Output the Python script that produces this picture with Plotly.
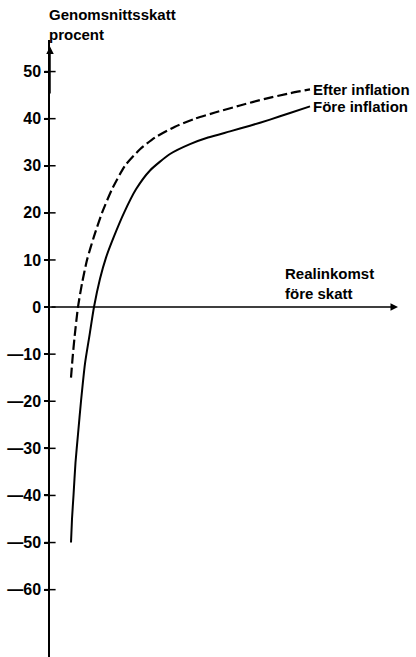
import plotly.graph_objects as go

# Data (x: real income before tax, arbitrary units; y: average tax, percent)
fore_x = [21, 22, 23.5, 25.5, 28, 31, 35, 39.5, 44, 50, 56, 64, 74, 86, 100, 120, 140, 158, 180, 200, 220, 240, 260]
fore_y = [-50, -45, -40, -33, -27, -20, -12, -6, 0, 6, 10.5, 15, 20, 25, 29, 32.5, 34.6, 36, 37.3, 38.5, 39.8, 41.2, 42.6]

efter_x = [21, 22.5, 24.5, 28, 32, 37, 44, 52, 62, 75, 90, 105, 125, 145, 165, 190, 215, 240, 260]
efter_y = [-15, -11, -6.5, 0, 5, 10, 15, 20, 25, 30, 33.5, 36, 38.3, 40, 41.3, 42.8, 44.2, 45.4, 46.2]

tick_vals = [50, 40, 30, 20, 10, 0, -10, -20, -30, -40, -50, -60]
tick_text = [("—" + str(-v)) if v < 0 else str(v) for v in tick_vals]

series_names = ["Efter inflation", "Före inflation"]
y_title = "Genomsnittsskatt<br>procent"
x_title = "Realinkomst<br>före skatt"

FONT = "Liberation Sans"
INK = "#000000"
LBL = dict(family=FONT, size=15, color=INK, weight="bold")

fig = go.Figure()

fig.add_trace(go.Scatter(x=efter_x, y=efter_y, mode="lines",
                         line=dict(color=INK, width=2.2, dash="10px,4px", shape="spline", smoothing=0.6),
                         hoverinfo="skip", showlegend=False))
fig.add_trace(go.Scatter(x=fore_x, y=fore_y, mode="lines",
                         line=dict(color=INK, width=2, shape="spline", smoothing=0.6),
                         hoverinfo="skip", showlegend=False))

# inside half of the y tick marks (cross ticks)
fig.add_trace(go.Scatter(x=[0] * len(tick_vals), y=tick_vals, mode="markers",
                         marker=dict(symbol="line-ew-open", size=8, color=INK,
                                     line=dict(color=INK, width=1.5)),
                         hoverinfo="skip", showlegend=False, cliponaxis=False))

annotations = []
# series labels at line ends
annotations.append(dict(x=efter_x[-1], y=efter_y[-1], xref="x", yref="y", text=series_names[0],
                        showarrow=False, xanchor="left", yanchor="middle", xshift=1, font=LBL))
annotations.append(dict(x=fore_x[-1], y=fore_y[-1], xref="x", yref="y", text=series_names[1],
                        showarrow=False, xanchor="left", yanchor="middle", xshift=1, font=LBL))
# axis titles
annotations.append(dict(x=-0.008, y=1.058, xref="paper", yref="paper", text=y_title, showarrow=False,
                        xanchor="left", yanchor="top", align="left", font=LBL))
annotations.append(dict(x=233, y=5.0, xref="x", yref="y", text=x_title, showarrow=False,
                        xanchor="left", yanchor="middle", align="left", font=LBL))
# x axis with arrow
annotations.append(dict(x=348, y=0, ax=0, ay=0, xref="x", yref="y", axref="x", ayref="y",
                        text="", showarrow=True, arrowhead=2, arrowsize=1, arrowwidth=1.5,
                        arrowcolor=INK))
# y axis arrow tip
annotations.append(dict(x=0, y=55.3, ax=0, ay=45, xref="x", yref="y", axref="x", ayref="y",
                        text="", showarrow=True, arrowhead=2, arrowsize=1, arrowwidth=1.5,
                        arrowcolor=INK))

fig.update_layout(
    width=416, height=657,
    margin=dict(l=50, r=0, t=40, b=0, autoexpand=False),
    paper_bgcolor="white", plot_bgcolor="white",
    annotations=annotations,
    xaxis=dict(range=[0, 366], visible=False, fixedrange=True),
    yaxis=dict(range=[-74.3, 56.7], showgrid=False, zeroline=False, automargin=False,
               showline=True, linecolor=INK, linewidth=1.5,
               ticks="outside", ticklen=4, tickwidth=1.5, tickcolor=INK,
               tickvals=tick_vals, ticktext=tick_text,
               tickfont=dict(family=FONT, size=16, color=INK, weight="bold"),
               fixedrange=True),
)

fig.write_html("out.html", config={"displayModeBar": False},
               post_script="document.body.style.margin='0';document.body.style.overflow='hidden';")
